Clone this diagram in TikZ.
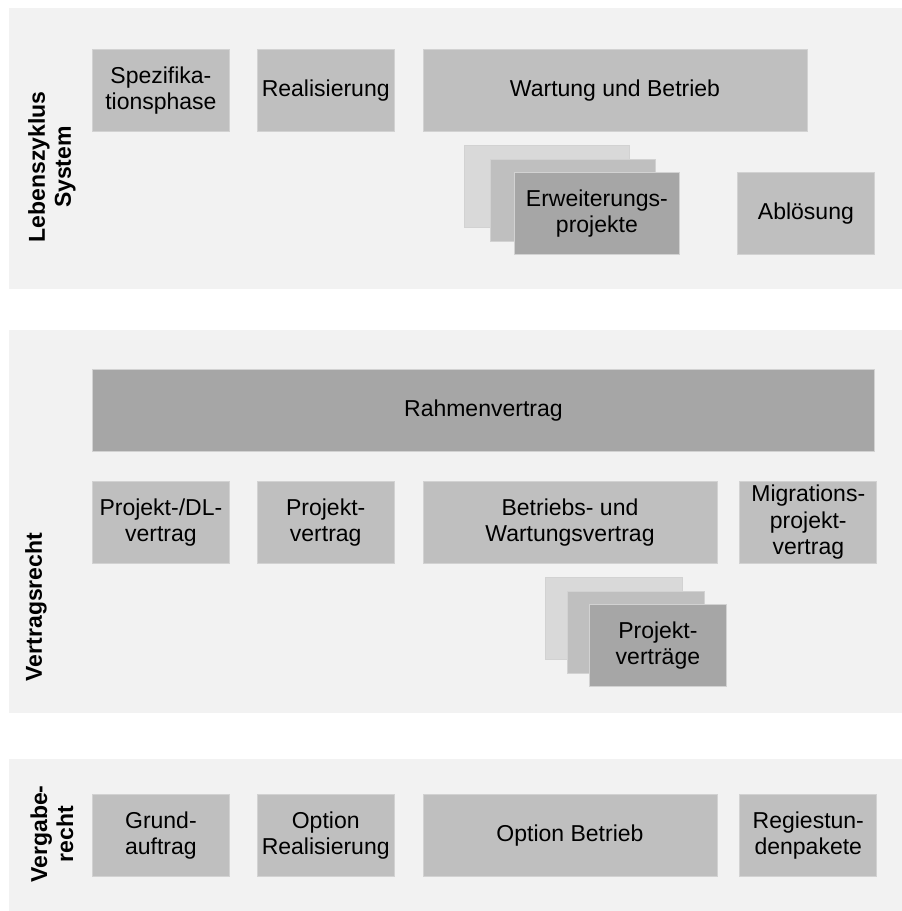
\documentclass[tikz,border=0pt]{standalone}
\usepackage{fontspec}
\setmainfont{Liberation Sans}
\usepackage{tikz}
\usetikzlibrary{positioning}
\definecolor{panelbg}{HTML}{F2F2F2}
\definecolor{phasefill}{HTML}{BFBFBF}
\definecolor{mainfill}{HTML}{A6A6A6}
\definecolor{backfill}{HTML}{D9D9D9}
\definecolor{edgegray}{HTML}{D2D2D2}
\tikzset{
  panel/.style={fill=panelbg, draw=none},
  phase/.style={
    rectangle, anchor=north west,
    minimum width=137pt, minimum height=82pt,
    inner sep=0pt, align=center,
    fill=phasefill, draw=edgegray, line width=0.8pt,
    font=\fontsize{23}{26.5}\selectfont,
  },
  mainbox/.style={phase, fill=mainfill},
  backbox/.style={phase, fill=backfill},
  sidelabel/.style={
    rotate=90, align=center, inner sep=0pt,
    font=\fontsize{23}{26}\selectfont\bfseries,
  },
}

\begin{document}
\begin{tikzpicture}[x=1pt, y=-1pt]
  \useasboundingbox (0,0) rectangle (902,911);

  % panels
  \fill[panel] (9,8) rectangle (902,289);
  \fill[panel] (9,330) rectangle (902,713);
  \fill[panel] (9,759) rectangle (902,911);

  % Lebenszyklus System
  \node[sidelabel] (lblsys) at (52,167) {Lebenszyklus\\System};
  \node[phase] (spez) at (92,49) {Spezifika-\\tionsphase};
  \node[phase, right=27pt of spez] (real) {Realisierung};
  \node[phase, right=28pt of real, minimum width=384pt] (wartung) {Wartung und Betrieb};
  \node[backbox, minimum width=165pt] (erwA) at (464,145) {};
  \node[phase, minimum width=165pt] (erwB) at (490,159) {};
  \node[mainbox, minimum width=165pt] (erw) at (514,172) {Erweiterungs-\\projekte};
  \node[phase] (abl) at (737,172) {Ablösung};

  % Vertragsrecht
  \node[sidelabel] (lblvtr) at (36,607) {Vertragsrecht};
  \node[mainbox, minimum width=782pt] (rahmen) at (92,369) {Rahmenvertrag};
  \node[phase] (pdl) at (92,481) {Projekt-/DL-\\vertrag};
  \node[phase, right=27pt of pdl] (pv) {Projekt-\\vertrag};
  \node[phase, right=28pt of pv, minimum width=294pt] (bwv) {Betriebs- und\\Wartungsvertrag};
  \node[phase, right=22pt of bwv] (mig) {Migrations-\\projekt-\\vertrag};
  \node[backbox] (pvtA) at (545,577) {};
  \node[phase] (pvtB) at (567,591) {};
  \node[mainbox] (pvt) at (589,604) {Projekt-\\verträge};

  % Vergaberecht
  \node[sidelabel] (lblvgr) at (52,834) {Vergabe-\\recht};
  \node[phase] (grund) at (92,794) {Grund-\\auftrag};
  \node[phase, right=27pt of grund] (optreal) {Option\\Realisierung};
  \node[phase, right=28pt of optreal, minimum width=294pt] (optbetr) {Option Betrieb};
  \node[phase, right=22pt of optbetr] (regie) {Regiestun-\\denpakete};
\end{tikzpicture}
\end{document}
